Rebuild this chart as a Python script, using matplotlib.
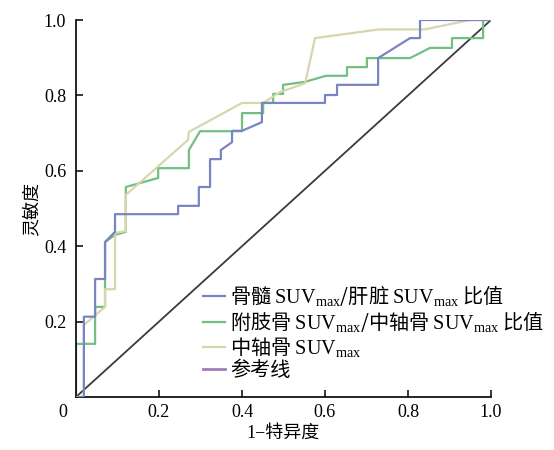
import numpy as np
import matplotlib.pyplot as plt
from matplotlib.lines import Line2D

plt.rcParams['font.family'] = ['Liberation Serif', 'Noto Sans CJK SC']
plt.rcParams['mathtext.fontset'] = 'custom'
plt.rcParams['mathtext.rm'] = 'Liberation Serif'

# ROC 曲线数据 (1-特异度, 灵敏度)
marrow_fpr = [0, 0.019, 0.019, 0.046, 0.046, 0.070, 0.070, 0.094, 0.094, 0.246, 0.246,
              0.296, 0.296, 0.323, 0.323, 0.349, 0.349, 0.376, 0.376, 0.400, 0.448,
              0.448, 0.600, 0.600, 0.629, 0.629, 0.728, 0.728, 0.805, 0.829, 0.829, 1.0]
marrow_tpr = [0, 0, 0.213, 0.213, 0.313, 0.313, 0.411, 0.438, 0.485, 0.485, 0.507,
              0.507, 0.557, 0.557, 0.631, 0.631, 0.655, 0.676, 0.706, 0.706, 0.729,
              0.780, 0.780, 0.801, 0.801, 0.828, 0.828, 0.899, 0.952, 0.952, 1.0, 1.0]

limb_fpr = [0, 0, 0.046, 0.046, 0.070, 0.070, 0.094, 0.120, 0.120, 0.198, 0.198, 0.272,
            0.272, 0.299, 0.400, 0.400, 0.451, 0.451, 0.475, 0.475, 0.499, 0.499, 0.552,
            0.602, 0.653, 0.653, 0.701, 0.701, 0.805, 0.853, 0.906, 0.906, 0.981, 0.981, 1.0]
limb_tpr = [0, 0.141, 0.141, 0.239, 0.239, 0.411, 0.430, 0.438, 0.557, 0.581, 0.607, 0.607,
            0.655, 0.705, 0.705, 0.753, 0.753, 0.780, 0.780, 0.804, 0.804, 0.828, 0.836,
            0.852, 0.852, 0.875, 0.875, 0.899, 0.899, 0.926, 0.926, 0.952, 0.952, 1.0, 1.0]

axial_fpr = [0, 0.019, 0.019, 0.070, 0.070, 0.094, 0.094, 0.120, 0.120, 0.270, 0.272,
             0.400, 0.451, 0.492, 0.552, 0.576, 0.730, 0.840, 0.950, 1.0]
axial_tpr = [0, 0, 0.191, 0.239, 0.286, 0.286, 0.435, 0.440, 0.536, 0.682, 0.703,
             0.780, 0.780, 0.809, 0.832, 0.952, 0.975, 0.975, 1.0, 1.0]

ref_x = [0, 1]
ref_y = [0, 1]

labels = [
    r'骨髓 $\mathrm{SUV_{max}}$/肝脏 $\mathrm{SUV_{max}}$ 比值',
    r'附肢骨 $\mathrm{SUV_{max}}$/中轴骨 $\mathrm{SUV_{max}}$ 比值',
    r'中轴骨 $\mathrm{SUV_{max}}$',
    '参考线',
]
xticks = [0.2, 0.4, 0.6, 0.8, 1.0]
yticks = [0.2, 0.4, 0.6, 0.8, 1.0]

c_marrow = '#7985c2'
c_limb = '#72bf82'
c_axial = '#d9d5ad'
c_ref_legend = '#a47db4'
c_ref = '#3a3a3a'

fig = plt.figure(figsize=(5.54, 4.5), dpi=100)
ax = fig.add_axes([76 / 554, 53 / 450, 415 / 554, 377 / 450])

ax.plot(ref_x, ref_y, color=c_ref, lw=1.3, zorder=1)
l1, = ax.plot(marrow_fpr, marrow_tpr, color=c_marrow, lw=1.6, zorder=3)
l2, = ax.plot(limb_fpr, limb_tpr, color=c_limb, lw=1.6, zorder=2)
l3, = ax.plot(axial_fpr, axial_tpr, color=c_axial, lw=1.6, zorder=2)
ref_handle = Line2D([], [], color=c_ref_legend, lw=2)

ax.set_xlim(0, 1)
ax.set_ylim(0, 1)
ax.spines['top'].set_visible(False)
ax.spines['right'].set_visible(False)
for s in ['left', 'bottom']:
    ax.spines[s].set_linewidth(1.2)

ax.set_xticks(xticks)
ax.set_yticks(yticks)
ax.set_xticklabels([f'{v:.1f}' for v in xticks])
ax.set_yticklabels([f'{v:.1f}' for v in yticks])
ax.tick_params(direction='in', length=5, width=1.1, labelsize=13)
ax.tick_params(axis='x', pad=5)
ax.tick_params(axis='y', pad=7)
ax.annotate('0', xy=(0, 0), xytext=(-13, -7), textcoords='offset pixels',
            ha='center', va='top', fontsize=13)

ax.set_xlabel('1−特异度', fontsize=13, labelpad=3)
ax.set_ylabel('灵敏度', fontsize=13, labelpad=2)

leg = ax.legend([l1, l2, l3, ref_handle], labels,
                loc='upper left', bbox_to_anchor=(203 / 554, 1 - 283 / 450),
                bbox_transform=fig.transFigure, frameon=False,
                prop={'family': 'Noto Sans CJK SC', 'size': 14.5},
                handlelength=1.1, handletextpad=0.25, labelspacing=0.05,
                borderpad=0, borderaxespad=0)

fig.savefig('out.png', dpi=100)
